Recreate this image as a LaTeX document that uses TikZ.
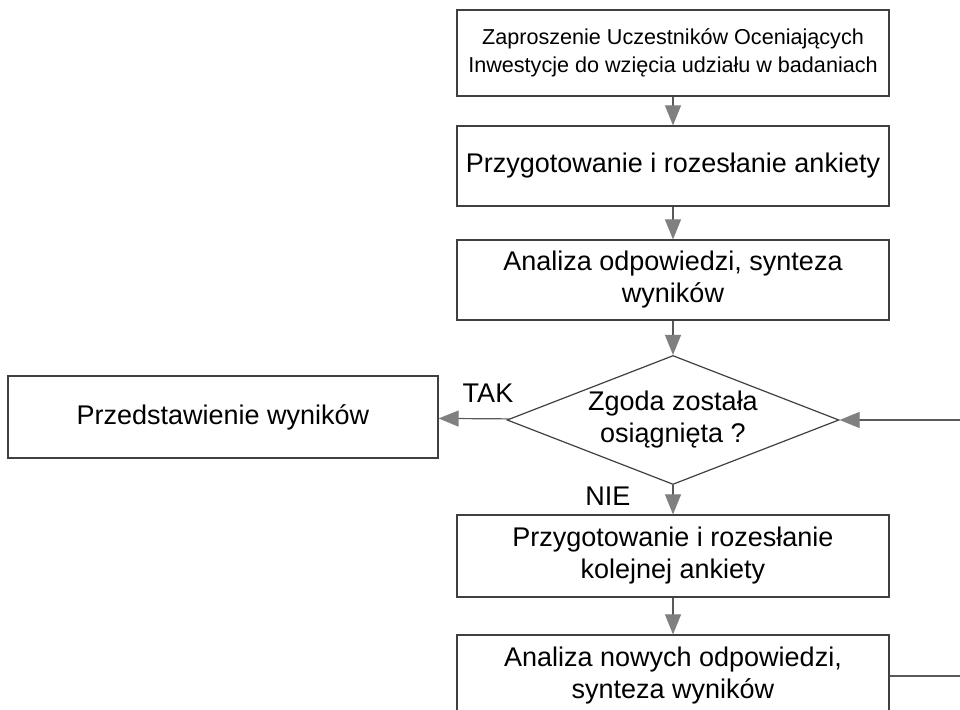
\documentclass[tikz,border=0pt]{standalone}
\usepackage{fontspec}
\setmainfont{Liberation Sans}
\usetikzlibrary{shapes.geometric,arrows.meta}

\begin{document}
\begin{tikzpicture}[x=0.5pt,y=-0.5pt]
  \tikzset{
    box/.style={rectangle,draw=black!75,line width=0.6pt,minimum width=216pt,inner sep=0pt,align=center,font=\fontsize{13.5}{16}\selectfont},
    decision/.style={diamond,draw=black!75,line width=0.6pt,shape aspect=2.57,minimum width=166pt,minimum height=64.5pt,inner sep=0pt,align=center,font=\fontsize{13.5}{16}\selectfont},
    flow/.style={draw=black!65,line width=0.6pt,-{Triangle[length=10pt,width=8pt,color=black!50]}},
    answer/.style={font=\fontsize{13.5}{16}\selectfont}
  }
  \path[use as bounding box] (0,0) rectangle (960,710);
  \clip (0,0) rectangle (960,710);
  \fill[white] (0,0) rectangle (960,710);
  \node[box,minimum height=43pt,font=\fontsize{10.8}{14}\selectfont] (nodezaproszenie) at (673,53)
    {Zaproszenie Uczestników Oceniających\\Inwestycje do wzięcia udziału w badaniach};
  \foreach \name/\y/\h/\txt in {ankieta/166/40pt/{Przygotowanie i rozesłanie ankiety},
    analiza/280/40pt/{Analiza odpowiedzi, synteza\\wyników},
    kolejna/556/41pt/{Przygotowanie i rozesłanie\\kolejnej ankiety},
    nowa/676/41pt/{Analiza nowych odpowiedzi,\\synteza wyników}}{
    \node[box,minimum height=\h] (node\name) at (673,\y) {\txt};
  }
  \node[decision] (nodezgoda) at (673,420) {\raisebox{-2pt}{Zgoda została}\\\raisebox{-2pt}{osiągnięta ?}};
  \node[box,minimum width=215pt,minimum height=41pt] (nodewyniki) at (223,417) {Przedstawienie wyników};
  \coordinate (nodepowrot) at (985,420);
  \path[flow] (nodezaproszenie) edge (nodeankieta)
    (nodeankieta) edge (nodeanaliza)
    (nodeanaliza) edge (nodezgoda)
    (nodezgoda) edge (nodekolejna)
    (nodekolejna) edge (nodenowa)
    (nodezgoda) edge (nodewyniki);
  \draw[flow] (nodenowa.east) -- (nodenowa.east -| nodepowrot) -- (nodepowrot) -- (nodezgoda.east);
  \node[answer] (nodetak) at (488,393) {TAK};
  \node[answer] (nodenie) at (608,496) {NIE};
\end{tikzpicture}
\end{document}
